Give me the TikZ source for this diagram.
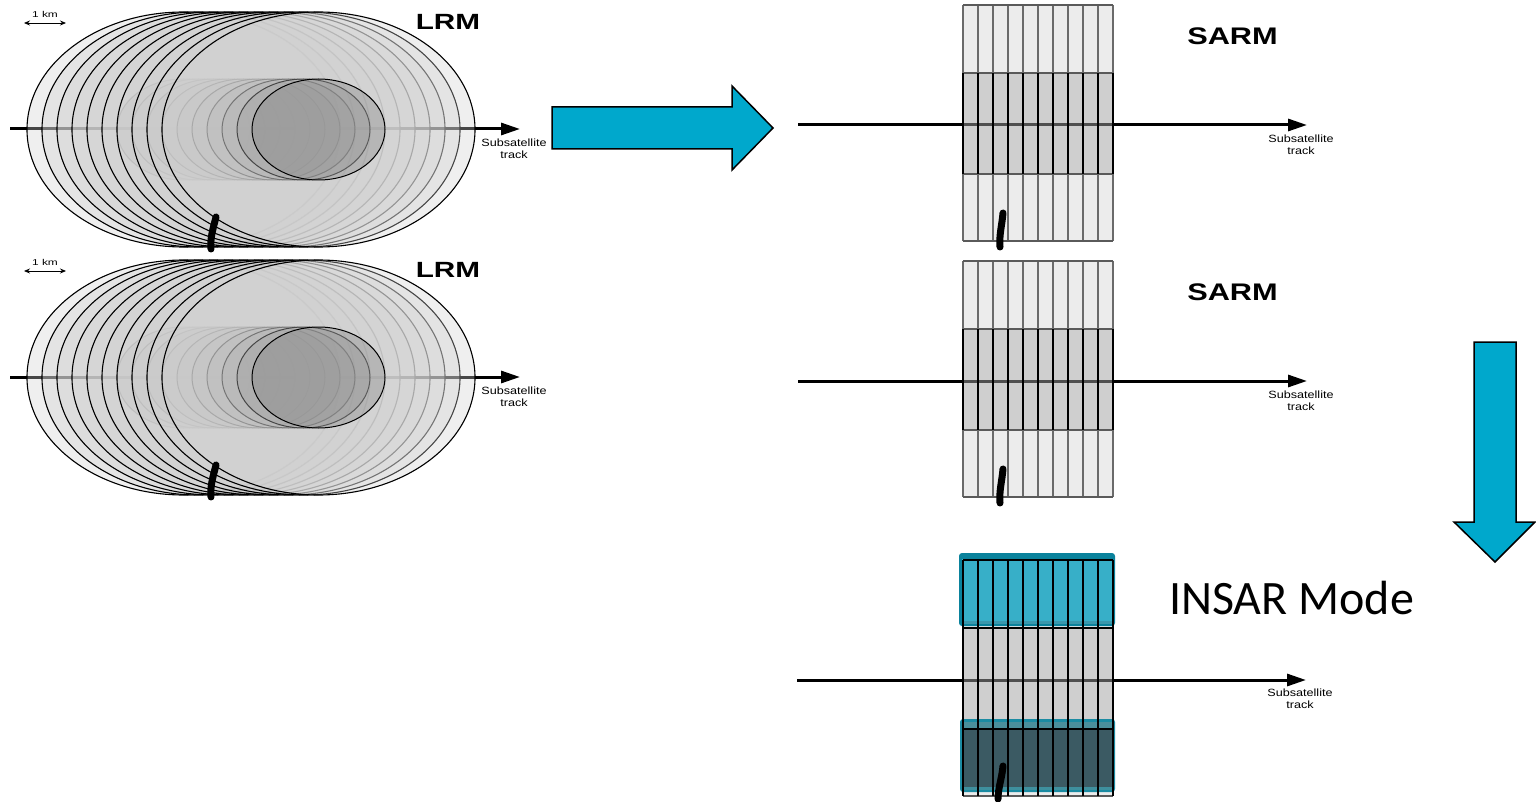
\documentclass[tikz,border=0pt]{standalone}
\usepackage{fontspec}
\setmainfont{Liberation Sans}
\newfontfamily\slidefont{Carlito}
\usetikzlibrary{arrows.meta}

\definecolor{arrowcyan}{HTML}{00A8CC}
\definecolor{footgray}{HTML}{D0D0D0}
\definecolor{innergray}{HTML}{808080}
\definecolor{lightcell}{HTML}{ECECEC}
\definecolor{midcell}{HTML}{CFCFCF}
\definecolor{rowgray}{HTML}{5A5A5A}
\definecolor{colgray}{HTML}{6A6A6A}
\definecolor{trackgray}{HTML}{505050}
\definecolor{insedge}{HTML}{0A829C}
\definecolor{insfill}{HTML}{37AFC8}
\definecolor{insband}{HTML}{3A98AD}
\definecolor{lowedge}{HTML}{1B8BA2}
\definecolor{lowfill}{HTML}{3B5A63}
\definecolor{lowband}{HTML}{4A8F9B}
\definecolor{lowfoot}{HTML}{3E8F9D}

\tikzset{
  trackline/.style={line width=3pt,-{Triangle[length=19pt,width=12pt]}},
  scalebar/.style={line width=0.8pt,{Stealth[length=6pt,width=5pt]}-{Stealth[length=6pt,width=5pt]}},
  bigfoot/.style={draw=black,line width=1.1pt,fill=footgray,fill opacity=0.34},
  smallfoot/.style={draw=black,line width=1pt,fill=innergray,fill opacity=0.35},
  blobstroke/.style={line width=7pt,line cap=round},
  lrmlabel/.style={font=\bfseries\fontsize{22}{22}\selectfont,inner sep=0pt,anchor=base,xscale=1.35},
  sarmlabel/.style={font=\bfseries\fontsize{24}{24}\selectfont,inner sep=0pt,anchor=base,xscale=1.28},
  tracklabel/.style={font=\fontsize{10.5}{12}\selectfont,align=center,inner sep=0pt,xscale=1.2},
  kmlabel/.style={font=\fontsize{8.5}{8.5}\selectfont,inner sep=0pt,xscale=1.4},
  bigarrow/.style={fill=arrowcyan,draw=black,line width=1.5pt,line join=miter},
  rowline/.style={draw=rowgray,line width=1.6pt},
  collight/.style={draw=colgray,line width=1.6pt},
  coldark/.style={draw=black,line width=1.6pt},
}

% Low resolution mode footprint panel: #1 = vertical offset, #2 = name suffix
\newcommand\lrmpanel[2]{%
  \begin{scope}[yshift=-#1pt]
    \coordinate (trs#2) at (10,129);
    \coordinate (tre#2) at (520,129);
    \draw[trackline] (trs#2) -- (tre#2);
    \foreach \k in {0,...,9}{
      \path[bigfoot] (183.5+15*\k,129.5) ellipse [x radius=156.5pt, y radius=117.5pt];
      \path[smallfoot] (183.5+15*\k,129.5) ellipse [x radius=66.5pt, y radius=50.5pt];
    }
    \coordinate (kma#2) at (24,23);
    \coordinate (kmb#2) at (66,23);
    \draw[scalebar] (kma#2) -- (kmb#2);
    \node[kmlabel] (km#2) at (45,14) {1 km};
    \node[lrmlabel] (lrm#2) at (448,30) {LRM};
    \node[tracklabel] (trl#2) at (514,149) {Subsatellite\\track};
    \draw[blobstroke] (216,217) .. controls (213,229) and (210,238) .. (211,249);
  \end{scope}}

% SAR mode strip grid: #1 = top edge, #2 = name suffix
\newcommand\sarmpanel[2]{%
  \fill[lightcell] (963,#1) rectangle (1113,#1+236);
  \fill[midcell] (963,#1+68) rectangle (1113,#1+169);
  \coordinate (sts#2) at (798,#1+120);
  \coordinate (ste#2) at (1307,#1+120);
  \draw[trackline] (sts#2) -- (ste#2);
  \draw[trackgray,line width=3pt] (963,#1+120) -- (1113,#1+120);
  \draw[rowline] (963,#1+68) -- (1113,#1+68);
  \draw[rowline] (963,#1+169) -- (1113,#1+169);
  \foreach \c in {0,...,10}{
    \draw[collight] (963+15*\c,#1) -- (963+15*\c,#1+236);
    \draw[coldark] (963+15*\c,#1+68) -- (963+15*\c,#1+169);
  }
  \draw[rowline] (963,#1) -- (1113,#1);
  \draw[rowline] (963,#1+236) -- (1113,#1+236);
  \node[sarmlabel] (sarm#2) at (1232.5,#1+40) {SARM};
  \node[tracklabel] (stl#2) at (1301,#1+140) {Subsatellite\\track};
  \draw[blobstroke] (1003,#1+208) .. controls (1002,#1+220) and (999,#1+230) .. (1000,#1+242);
}

\begin{document}
\begin{tikzpicture}[x=1pt,y=-1pt]
\useasboundingbox (0,0) rectangle (1536,802);

% two LRM panels
\lrmpanel{0}{a}
\lrmpanel{248}{b}

% two SARM panels
\sarmpanel{5}{a}
\sarmpanel{261}{b}

% INSAR panel
\fill[lightcell] (963,560) rectangle (1113,796);
\fill[midcell] (963,628) rectangle (1113,729);
\fill[insedge,rounded corners=3pt] (959,553) rectangle (1115,626);
\fill[insfill] (962,559) rectangle (1112,621);
\fill[insband] (962,621) rectangle (1112,624);
\fill[lowedge,rounded corners=3pt] (960,719) rectangle (1115,792);
\fill[lowfill] (963,722) rectangle (1112,789);
\fill[lowband] (963,722) rectangle (1112,729);
\fill[lowfoot] (963,787) rectangle (1112,790);
\coordinate (its) at (797,680);
\coordinate (ite) at (1306,680);
\draw[trackline] (its) -- (ite);
\draw[trackgray,line width=3pt] (963,680) -- (1113,680);
\draw[coldark] (963,560) -- (1113,560);
\draw[coldark] (963,628) -- (1113,628);
\draw[coldark] (963,729) -- (1113,729);
\draw[rowline] (963,796) -- (1113,796);
\foreach \c in {0,...,10}{
  \draw[coldark] (963+15*\c,560) -- (963+15*\c,796);
}
\node[tracklabel] (itl) at (1300,699) {Subsatellite\\track};
\node[font=\slidefont\fontsize{48}{48}\selectfont,inner sep=0pt,anchor=base] (insar) at (1291.5,614) {INSAR Mode};
\draw[blobstroke] (1003,766) .. controls (1002,778) and (998,788) .. (998,799);

% block arrows
\path[bigarrow] (552,107) -- (732,107) -- (732,86) -- (773,128) -- (732,170) -- (732,149) -- (552,149) -- cycle;
\path[bigarrow] (1474,342) -- (1516,342) -- (1516,522) -- (1535,522) -- (1495,562) -- (1454,522) -- (1474,522) -- cycle;
\end{tikzpicture}
\end{document}
